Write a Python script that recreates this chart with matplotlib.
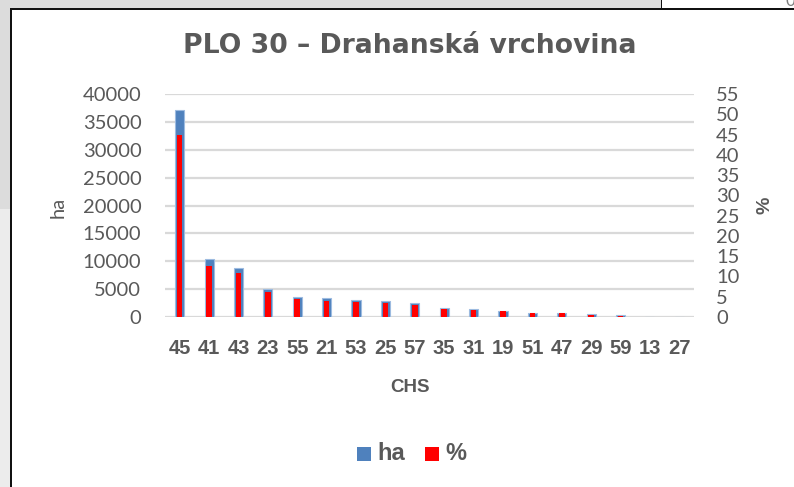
import matplotlib.pyplot as plt
import numpy as np
from matplotlib.patches import Rectangle

# Data
kategorie = ["45", "41", "43", "23", "55", "21", "53", "25", "57",
             "35", "31", "19", "51", "47", "29", "59", "13", "27"]
plocha_ha = [37200, 10400, 8840, 5080, 3640, 3350, 2990, 2820, 2510,
             1560, 1430, 1080, 770, 750, 540, 300, 30, 10]
podil_pct = [44.9, 12.6, 10.8, 6.2, 4.4, 4.0, 3.6, 3.45, 3.0,
             1.9, 1.8, 1.4, 0.95, 0.9, 0.6, 0.35, 0.04, 0.01]

seda = "#595959"
modra = "#4f81bd"
cervena = "#ff0000"
pismo = "Lato"
tucne = "Liberation Sans"

fig = plt.figure(figsize=(7.94, 4.87), dpi=100)
fig.patch.set_facecolor("white")

# okolni ramecek (bunky tabulky)
W, H = 794, 487
def px(x, y, w, h):
    return (x / W, 1 - (y + h) / H, w / W, h / H)

for (x, y, w, h), c in [((0, 0, 661, 9), "#dcdcdc"), ((0, 9, 10, 200), "#dcdcdc"),
                        ((0, 209, 10, 278), "#ececec")]:
    l, b, ww, hh = px(x, y, w, h)
    fig.add_artist(Rectangle((l, b), ww, hh, transform=fig.transFigure,
                             facecolor=c, edgecolor="none", zorder=0))
for (x, y, w, h) in [(10, 8, 784, 2), (10, 8, 2, 479), (660.5, 0, 1.2, 9)]:
    l, b, ww, hh = px(x, y, w, h)
    fig.add_artist(Rectangle((l, b), ww, hh, transform=fig.transFigure,
                             facecolor="#111111", edgecolor="none", zorder=1))
fig.text(785 / W, 1 - 1 / H, "0", fontsize=12, color="#7f7f7f", family=pismo,
         ha="left", va="center")

ax = fig.add_axes([165 / W, 1 - 317 / H, 529 / W, 223 / H])
ax2 = ax.twinx()

x = np.arange(len(kategorie))
ax.bar(x, plocha_ha, width=0.31, color=modra, edgecolor="#9dbbe0", linewidth=0.8,
       zorder=2)
ax2.bar(x, podil_pct, width=0.19, color=cervena, edgecolor="none", zorder=3)

ax.set_xlim(-0.5, len(kategorie) - 0.5)
ax.set_ylim(0, 40000)
ax2.set_ylim(0, 55)
ax.set_yticks(np.arange(0, 40001, 5000))
ax2.set_yticks(np.arange(0, 56, 5))
ax.yaxis.grid(True, color="#d9d9d9", linewidth=1.6)
ax.set_axisbelow(True)

for a in (ax, ax2):
    for s in a.spines.values():
        s.set_visible(False)
    a.tick_params(length=0, colors=seda)

ax.set_xticks(x)
ax.set_xticklabels(kategorie, fontsize=14.5, fontweight="bold", family=tucne, color=seda)
ax.tick_params(axis="x", pad=16)
ax.tick_params(axis="y", pad=17)
ax2.tick_params(axis="y", pad=16)
for lab in ax.get_yticklabels():
    lab.set_fontsize(14.5)
    lab.set_family(pismo)
for lab in ax2.get_yticklabels():
    lab.set_fontsize(14.5)
    lab.set_family(pismo)

fig.text(410 / W, 1 - 46 / H, "PLO 30 – Drahanská vrchovina", fontsize=19.2,
         fontweight="bold", color=seda, family="DejaVu Sans", ha="center", va="center")
fig.text(410 / W, 1 - 388 / H, "CHS", fontsize=13.5, fontweight="bold", color=seda,
         family=tucne, ha="center", va="center")
fig.text(58 / W, 1 - 207 / H, "ha", fontsize=14.5, color=seda, family=pismo,
         rotation=90, ha="center", va="center")
fig.text(765 / W, 1 - 205 / H, "%", fontsize=14, fontweight="bold", color=seda,
         family=tucne, rotation=90, ha="center", va="center")

# legenda
for (lx, c, t) in [(357, modra, "ha"), (425, cervena, "%")]:
    l, b, ww, hh = px(lx, 447, 14, 14)
    fig.add_artist(Rectangle((l, b), ww, hh, transform=fig.transFigure,
                             facecolor=c, edgecolor="none"))
    fig.text((lx + 20) / W, 1 - 454 / H, t, fontsize=17, fontweight="bold",
             color=seda, family=tucne, ha="left", va="center")

fig.savefig("out.png", dpi=100)
